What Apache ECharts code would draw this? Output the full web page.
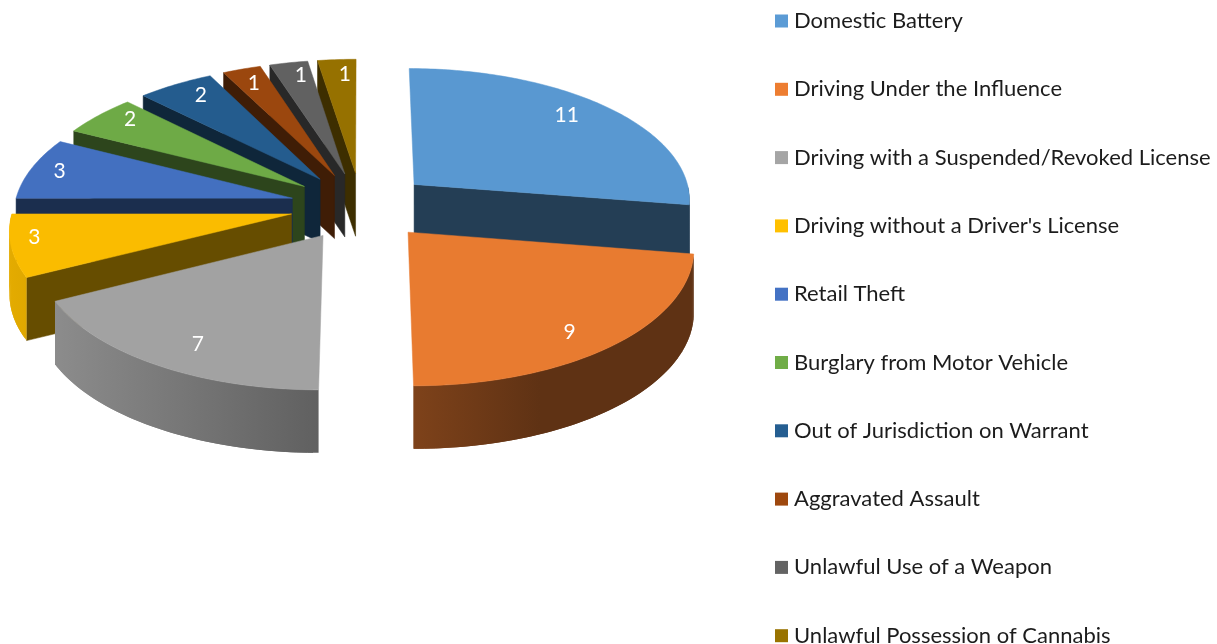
<!DOCTYPE html>
<html><head><meta charset="utf-8">
<style>html,body{margin:0;padding:0;background:#fff}#c{width:1217px;height:644px}</style>
<script src="https://cdn.jsdelivr.net/npm/echarts@6/dist/echarts.min.js"></script>
</head><body><div id="c"></div>
<script>
const categories = ["Domestic Battery","Driving Under the Influence","Driving with a Suspended/Revoked License","Driving without a Driver's License","Retail Theft","Burglary from Motor Vehicle","Out of Jurisdiction on Warrant","Aggravated Assault","Unlawful Use of a Weapon","Unlawful Possession of Cannabis"];
const values = [11,9,7,3,3,2,2,1,1,1];
const colors = ['#5b9bd5','#ed7d31','#a5a5a5','#ffc000','#4472c4','#70ad47','#255e91','#9e480e','#636363','#997300'];
const labelReach = [0.83,0.85,0.83,0.915,0.89,0.88,0.86,0.86,0.87,0.857];
const labelTurn = [-3,3,-3,2.5,0,3,2,0,1.5,1.5];

// pie layout (fake-3D projection of an exploded pie)
const CX = 361, CY = 206, R = 278, EXPLODE = 71, TILT = 0.475, PERSP = 2700, DEPTH = 63;
const total = values.reduce((a, b) => a + b, 0);
const rad = d => d * Math.PI / 180;
const startAngles = values.map((v, i) => values.slice(0, i).reduce((a, b) => a + b, 0) / total * 360);
const sweep = values.map(v => v / total * 360);
function shade(hex, f) {
  const n = parseInt(hex.slice(1), 16);
  const c = s => Math.round(((n >> s) & 255) * f);
  return 'rgb(' + c(16) + ',' + c(8) + ',' + c(0) + ')';
}
function project(i, r, deg, drop) {
  const mid = rad(startAngles[i] + sweep[i] / 2), a = rad(deg);
  const X = EXPLODE * Math.sin(mid) + r * Math.sin(a);
  const Y = -EXPLODE * Math.cos(mid) - r * Math.cos(a);
  const p = PERSP / (PERSP - Y);
  return [CX + X * p, CY + Y * TILT * p + (drop || 0)];
}
const wallStops = [[0, 0.9], [320 / 700, 0.58], [413 / 700, 0.53], [540 / 700, 0.4], [1, 0.4]];
function renderSlice(params, api) {
  const i = params.seriesIndex;
  const s = startAngles[i], w = api.value(0) / total * 360, e = s + w, col = colors[i];
  const top = [project(i, 0, s)];
  const ch = [];
  const cut = deg => {
    const a = project(i, 0, deg), b = project(i, R, deg);
    ch.push({ type: 'polygon', silent: true, shape: { points: [a, b, [b[0], b[1] + DEPTH], [a[0], a[1] + DEPTH]] },
      style: { fill: shade(col, 0.4), stroke: shade(col, 0.4), lineWidth: 0.5 } });
  };
  if (-Math.cos(rad(s - 90)) > 0.01) cut(s);
  if (-Math.cos(rad(e + 90)) > 0.01) cut(e);
  const wallFill = { type: 'linear', global: true, x: 0, y: 0, x2: 700, y2: 0,
    colorStops: wallStops.map(t => ({ offset: t[0], color: shade(col, t[1]) })) };
  const n = Math.ceil(w);
  for (let k = 0; k <= n; k++) {
    const deg = s + w * k / n, next = Math.min(s + w * (k + 2) / n, e);
    top.push(project(i, R, deg));
    if (k < n && deg >= 90 && next <= 270.001) {
      const a = project(i, R, deg), b = project(i, R, next);
      ch.push({ type: 'polygon', silent: true, shape: { points: [a, b, [b[0], b[1] + DEPTH], [a[0], a[1] + DEPTH]] },
        style: { fill: wallFill } });
    }
  }
  ch.push({ type: 'polygon', silent: true, shape: { points: top }, style: { fill: shade(col, 0.98), stroke: shade(col, 0.98), lineWidth: 0.5 } });
  const l = project(i, R * labelReach[i], s + w / 2 + labelTurn[i]);
  ch.push({ type: 'text', silent: true, style: { text: String(api.value(0)), x: l[0], y: l[1], fill: '#fff',
    fontFamily: 'Lato', fontSize: 21, align: 'center', verticalAlign: 'middle' } });
  return { type: 'group', children: ch };
}
const chart = echarts.init(document.getElementById('c'), null, { renderer: 'canvas' });
chart.setOption({
  animation: false,
  backgroundColor: '#fff',
  color: colors,
  legend: {
    orient: 'vertical', left: 775, top: 10, height: 900, icon: 'rect', itemWidth: 13, itemHeight: 13, itemGap: 46.3,
    selectedMode: false, padding: 0,
    textStyle: { fontFamily: 'Lato', fontSize: 22, color: '#1c1c1c', padding: [0, 0, 0, 1], lineHeight: 18 },
    data: categories
  },
  series: categories.map((name, i) => ({
    type: 'custom', name, coordinateSystem: 'none', silent: true,
    z: 10 + Math.round(20 * (1 - Math.cos(rad(startAngles[i] + sweep[i] / 2)))),
    itemStyle: { color: colors[i] },
    renderItem: renderSlice,
    data: [[values[i]]]
  }))
});
</script></body></html>
